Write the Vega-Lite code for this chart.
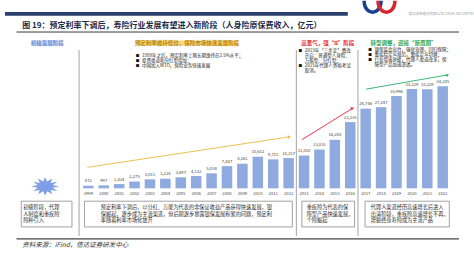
{
  "$schema": "https://vega.github.io/schema/vega-lite/v6.json",
  "width": 474,
  "height": 256,
  "autosize": {"type": "fit", "contains": "padding"},
  "padding": 0,
  "background": "white",
  "config": {
    "view": {"stroke": null},
    "font": "Noto Sans CJK SC",
    "text": {"font": "Noto Sans CJK SC"}
  },
  "datasets": {
    "premium": [
      {"year": 1999, "value": 872}, {"year": 2000, "value": 997}, {"year": 2001, "value": 1424},
      {"year": 2002, "value": 2275}, {"year": 2003, "value": 3011}, {"year": 2004, "value": 3228},
      {"year": 2005, "value": 3697}, {"year": 2006, "value": 4132}, {"year": 2007, "value": 5038},
      {"year": 2008, "value": 7447}, {"year": 2009, "value": 8261}, {"year": 2010, "value": 10632},
      {"year": 2011, "value": 9721}, {"year": 2012, "value": 10157}, {"year": 2013, "value": 11010},
      {"year": 2014, "value": 13031}, {"year": 2015, "value": 16288}, {"year": 2016, "value": 22235},
      {"year": 2017, "value": 26746}, {"year": 2018, "value": 27247}, {"year": 2019, "value": 30996},
      {"year": 2020, "value": 33329}, {"year": 2021, "value": 33229}, {"year": 2022, "value": 34245}
    ],
    "trends": [
      {"trend": "低利率扩张", "year": 1998.94, "value": 7040, "end": false},
      {"trend": "低利率扩张", "year": 2012.05, "value": 17280, "end": true},
      {"trend": "高景气", "year": 2012.86, "value": 16320, "end": false},
      {"trend": "高景气", "year": 2016.15, "value": 26880, "end": true},
      {"trend": "转型调整", "year": 2017.02, "value": 33280, "end": false},
      {"trend": "转型调整", "year": 2022.31, "value": 38080, "end": true}
    ],
    "boundaries": [{"year": 1998.4}, {"year": 2012.5}, {"year": 2016.5}],
    "stages": [
      {"stage": "初级发展阶段", "center": 1996.33, "from": 1995.33, "to": 1997.32},
      {"stage": "预定利率维持低位，保险市场快速发展阶段", "center": 2005.4, "from": 2002.17, "to": 2008.7},
      {"stage": "高景气，强“α”阶段", "center": 2014.54},
      {"stage": "转型调整，迎接“新周期”", "center": 2019.45}
    ],
    "notes": [
      {"year": 2002.48, "level": 44480, "note": "1999年之后，预定利率上限长期维持在2.5%水平；", "bullet": true},
      {"year": 2002.48, "level": 42720, "note": "投资渠道和分红型增加；", "bullet": true},
      {"year": 2002.48, "level": 40960, "note": "中国加入WTO，保险业务快速发展", "bullet": true},
      {"year": 2013.05, "level": 46080, "note": "2013年“三步走”费改", "bullet": true},
      {"year": 2013.05, "level": 44416, "note": "开启：普通型人身险、", "bullet": false},
      {"year": 2013.05, "level": 42752, "note": "万能型、分红型；", "bullet": false},
      {"year": 2013.05, "level": 41088, "note": "2015年代理人资格考试", "bullet": true},
      {"year": 2013.05, "level": 39424, "note": "取消。", "bullet": false},
      {"year": 2017.58, "level": 46400, "note": "银保监会出台，强化治理，回归保障；", "bullet": true},
      {"year": 2017.58, "level": 44736, "note": "重疾险定义规范，重疾定义切换；", "bullet": true},
      {"year": 2017.58, "level": 43072, "note": "行业增速放缓，代理人渠道改革，保", "bullet": true},
      {"year": 2017.58, "level": 41408, "note": "障型产品加速渗透。", "bullet": false}
    ],
    "boxes": [
      {"from": 1994.65, "to": 1997.94},
      {"from": 1998.75, "to": 2012.24},
      {"from": 2012.86, "to": 2016.28},
      {"from": 2016.96, "to": 2022.43}
    ],
    "boxlines": [
      {"year": 1994.77, "level": -6400, "line": "初级阶段，代理"},
      {"year": 1994.77, "level": -8480, "line": "人制度和重疾险"},
      {"year": 1994.77, "level": -10560, "line": "险种引入"},
      {"year": 1999.81, "level": -6400, "line": "预定利率下调后，以分红、万能为代表的非保证收益产品获得快速发展，银"},
      {"year": 1999.81, "level": -8480, "line": "保崛起，逐步成为主流渠道，但后期逐步暴露银保发展积累的问题，预定利"},
      {"year": 1999.81, "level": -10560, "line": "率随着利率市场化放开"},
      {"year": 2013.17, "level": -6400, "line": "重疾险为代表的保"},
      {"year": 2013.17, "level": -8480, "line": "障型产品快速发展，"},
      {"year": 2013.17, "level": -10560, "line": "个险崛起"},
      {"year": 2017.33, "level": -6400, "line": "代理人渠道经历高速增长后进入"},
      {"year": 2017.33, "level": -8480, "line": "出清阶段，重疾险高速增长不再，"},
      {"year": 2017.33, "level": -10560, "line": "增额终身寿险成为主流产品"}
    ]
  },
  "layer": [
    {
      "data": {"values": [{}]},
      "mark": {"type": "rect", "color": "#2b3f6e"},
      "encoding": {
        "x": {"datum": 1993.593, "type": "quantitative", "scale": {"domain": [1993.593, 2023.057], "nice": false, "zero": false}, "axis": null},
        "x2": {"datum": 2015.84},
        "y": {"datum": 59200, "type": "quantitative", "scale": {"domain": [-22720, 59200], "nice": false, "zero": false}, "axis": null},
        "y2": {"datum": 57920}
      }
    },
    {
      "data": {"values": [{}]},
      "mark": {"type": "point", "filled": true, "opacity": 1, "color": "#1d3f91", "size": 420, "shape": "M-1,-1C-1,0.7 1,0.7 1,-1L0.65,-1C0.65,0.25 -0.65,0.25 -0.65,-1Z"},
      "encoding": {
        "x": {"datum": 2017.45, "type": "quantitative", "scale": {"domain": [1993.593, 2023.057], "nice": false, "zero": false}, "axis": null},
        "y": {"datum": 59500, "type": "quantitative", "scale": {"domain": [-22720, 59200], "nice": false, "zero": false}, "axis": null}
      }
    },
    {
      "data": {"values": [{}]},
      "mark": {"type": "point", "filled": true, "opacity": 1, "color": "#d7262f", "size": 420, "shape": "M-1,-1C-1,0.7 1,0.7 1,-1L0.65,-1C0.65,0.25 -0.65,0.25 -0.65,-1Z"},
      "encoding": {
        "x": {"datum": 2018.35, "type": "quantitative", "scale": {"domain": [1993.593, 2023.057], "nice": false, "zero": false}, "axis": null},
        "y": {"datum": 59500, "type": "quantitative", "scale": {"domain": [-22720, 59200], "nice": false, "zero": false}, "axis": null}
      }
    },
    {
      "data": {"values": [{"label": "信达证券股份有限公司 CINDA SECURITIES"}]},
      "mark": {"type": "text", "align": "left", "baseline": "middle", "fontSize": 3.5, "color": "#9a9a9a"},
      "encoding": {
        "x": {"datum": 2019.8, "type": "quantitative", "scale": {"domain": [1993.593, 2023.057], "nice": false, "zero": false}, "axis": null},
        "y": {"datum": 58560, "type": "quantitative", "scale": {"domain": [-22720, 59200], "nice": false, "zero": false}, "axis": null},
        "text": {"field": "label"}
      }
    },
    {
      "data": {"values": [{"label": "图 19：预定利率下调后，寿险行业发展有望进入新阶段（人身险原保费收入，亿元）"}]},
      "mark": {"type": "text", "align": "left", "baseline": "middle", "fontSize": 8, "fontWeight": "bold", "color": "#1c2a48"},
      "encoding": {
        "x": {"datum": 1994.71, "type": "quantitative", "scale": {"domain": [1993.593, 2023.057], "nice": false, "zero": false}, "axis": null},
        "y": {"datum": 54400, "type": "quantitative", "scale": {"domain": [-22720, 59200], "nice": false, "zero": false}, "axis": null},
        "text": {"field": "label"}
      }
    },
    {
      "data": {"values": [{}]},
      "mark": {"type": "rule", "color": "#3a3a3a", "strokeWidth": 1},
      "encoding": {
        "x": {"datum": 1994.34, "type": "quantitative", "scale": {"domain": [1993.593, 2023.057], "nice": false, "zero": false}, "axis": null},
        "x2": {"datum": 2023.057},
        "y": {"datum": 52480, "type": "quantitative", "scale": {"domain": [-22720, 59200], "nice": false, "zero": false}, "axis": null}
      }
    },
    {
      "data": {"name": "stages"},
      "transform": [{"filter": "datum.stage === '初级发展阶段'"}],
      "mark": {"type": "rect", "color": "#d3ddf5"},
      "encoding": {
        "x": {"field": "from", "type": "quantitative", "scale": {"domain": [1993.593, 2023.057], "nice": false, "zero": false}, "axis": null},
        "x2": {"field": "to"},
        "y": {"datum": 49600, "type": "quantitative", "scale": {"domain": [-22720, 59200], "nice": false, "zero": false}, "axis": null},
        "y2": {"datum": 47840}
      }
    },
    {
      "data": {"name": "stages"},
      "transform": [{"filter": "datum.stage === '预定利率维持低位，保险市场快速发展阶段'"}],
      "mark": {"type": "rect", "color": "#f8d977"},
      "encoding": {
        "x": {"field": "from", "type": "quantitative", "scale": {"domain": [1993.593, 2023.057], "nice": false, "zero": false}, "axis": null},
        "x2": {"field": "to"},
        "y": {"datum": 49600, "type": "quantitative", "scale": {"domain": [-22720, 59200], "nice": false, "zero": false}, "axis": null},
        "y2": {"datum": 47840}
      }
    },
    {
      "data": {"name": "stages"},
      "mark": {"type": "text", "align": "center", "baseline": "middle", "fontSize": 5.5, "fontWeight": "bold"},
      "encoding": {
        "x": {"field": "center", "type": "quantitative", "scale": {"domain": [1993.593, 2023.057], "nice": false, "zero": false}, "axis": null},
        "y": {"datum": 48736, "type": "quantitative", "scale": {"domain": [-22720, 59200], "nice": false, "zero": false}, "axis": null},
        "text": {"field": "stage"},
        "color": {
          "field": "stage", "type": "nominal", "legend": null,
          "scale": {
            "domain": ["初级发展阶段", "预定利率维持低位，保险市场快速发展阶段", "高景气，强“α”阶段", "转型调整，迎接“新周期”"],
            "range": ["#6f8fd6", "#b98410", "#e8262b", "#2aa85a"]
          }
        }
      }
    },
    {
      "data": {"name": "boundaries"},
      "mark": {"type": "rule", "color": "#a3a3a3", "strokeWidth": 1},
      "encoding": {
        "x": {"field": "year", "type": "quantitative", "scale": {"domain": [1993.593, 2023.057], "nice": false, "zero": false}, "axis": null},
        "y": {"datum": 46400, "type": "quantitative", "scale": {"domain": [-22720, 59200], "nice": false, "zero": false}, "axis": null},
        "y2": {"datum": -16000}
      }
    },
    {
      "data": {"name": "notes"},
      "transform": [{"filter": "datum.bullet"}],
      "mark": {"type": "text", "align": "center", "baseline": "middle", "fontSize": 3.6, "dx": -4.5, "color": "#111", "text": "■"},
      "encoding": {
        "x": {"field": "year", "type": "quantitative", "scale": {"domain": [1993.593, 2023.057], "nice": false, "zero": false}, "axis": null},
        "y": {"field": "level", "type": "quantitative", "scale": {"domain": [-22720, 59200], "nice": false, "zero": false}, "axis": null}
      }
    },
    {
      "data": {"name": "notes"},
      "mark": {"type": "text", "align": "left", "baseline": "middle", "fontSize": 4.5, "color": "#222"},
      "encoding": {
        "x": {"field": "year", "type": "quantitative", "scale": {"domain": [1993.593, 2023.057], "nice": false, "zero": false}, "axis": null},
        "y": {"field": "level", "type": "quantitative", "scale": {"domain": [-22720, 59200], "nice": false, "zero": false}, "axis": null},
        "text": {"field": "note"}
      }
    },
    {
      "data": {"name": "trends"},
      "mark": {"type": "line", "strokeWidth": 1},
      "encoding": {
        "x": {"field": "year", "type": "quantitative", "scale": {"domain": [1993.593, 2023.057], "nice": false, "zero": false}, "axis": null},
        "y": {"field": "value", "type": "quantitative", "scale": {"domain": [-22720, 59200], "nice": false, "zero": false}, "axis": null},
        "stroke": {"field": "trend", "type": "nominal", "legend": null, "scale": {"domain": ["低利率扩张", "高景气", "转型调整"], "range": ["#e8c24e", "#ee3450", "#3cb878"]}}
      }
    },
    {
      "data": {"name": "trends"},
      "transform": [{"filter": "datum.end"}],
      "mark": {"type": "point", "shape": "triangle-right", "filled": true, "opacity": 1, "size": 14},
      "encoding": {
        "x": {"field": "year", "type": "quantitative", "scale": {"domain": [1993.593, 2023.057], "nice": false, "zero": false}, "axis": null},
        "y": {"field": "value", "type": "quantitative", "scale": {"domain": [-22720, 59200], "nice": false, "zero": false}, "axis": null},
        "fill": {"field": "trend", "type": "nominal", "legend": null, "scale": {"domain": ["低利率扩张", "高景气", "转型调整"], "range": ["#e8c24e", "#ee3450", "#3cb878"]}},
        "angle": {"field": "trend", "type": "nominal", "legend": null, "scale": {"domain": ["低利率扩张", "高景气", "转型调整"], "range": [-8.6, -31.9, -10]}}
      }
    },
    {
      "data": {"name": "premium"},
      "mark": {"type": "bar", "size": 10.5, "color": "#8eaadf"},
      "encoding": {
        "x": {"field": "year", "type": "quantitative", "scale": {"domain": [1993.593, 2023.057], "nice": false, "zero": false}, "axis": null},
        "y": {"field": "value", "type": "quantitative", "scale": {"domain": [-22720, 59200], "nice": false, "zero": false}, "axis": null},
        "y2": {"datum": 0}
      }
    },
    {
      "data": {"name": "premium"},
      "mark": {"type": "text", "align": "center", "baseline": "bottom", "dy": -2.5, "fontSize": 4.2, "color": "#444"},
      "encoding": {
        "x": {"field": "year", "type": "quantitative", "scale": {"domain": [1993.593, 2023.057], "nice": false, "zero": false}, "axis": null},
        "y": {"field": "value", "type": "quantitative", "scale": {"domain": [-22720, 59200], "nice": false, "zero": false}, "axis": null},
        "text": {"field": "value", "type": "quantitative", "format": ","}
      }
    },
    {
      "data": {"name": "premium"},
      "mark": {"type": "text", "align": "center", "baseline": "middle", "dy": 5.5, "fontSize": 4.2, "color": "#444"},
      "encoding": {
        "x": {"field": "year", "type": "quantitative", "scale": {"domain": [1993.593, 2023.057], "nice": false, "zero": false}, "axis": null},
        "y": {"datum": 0, "type": "quantitative", "scale": {"domain": [-22720, 59200], "nice": false, "zero": false}, "axis": null},
        "text": {"field": "year", "type": "quantitative", "format": "d"}
      }
    },
    {
      "data": {"values": [{}]},
      "mark": {"type": "point", "filled": true, "opacity": 1, "color": "#7e9fe6", "size": 784,
        "shape": "M1,0L0.531,0.093L0.866,0.325L0.389,0.253L0.5,0.563L0.142,0.345L0,0.65L-0.142,0.345L-0.5,0.563L-0.389,0.253L-0.866,0.325L-0.531,0.093L-1,0L-0.531,-0.093L-0.866,-0.325L-0.389,-0.253L-0.5,-0.563L-0.142,-0.345L0,-0.65L0.142,-0.345L0.5,-0.563L0.389,-0.253L0.866,-0.325L0.531,-0.093Z"},
      "encoding": {
        "x": {"datum": 1996.2, "type": "quantitative", "scale": {"domain": [1993.593, 2023.057], "nice": false, "zero": false}, "axis": null},
        "y": {"datum": 640, "type": "quantitative", "scale": {"domain": [-22720, 59200], "nice": false, "zero": false}, "axis": null}
      }
    },
    {
      "data": {"name": "boxes"},
      "mark": {"type": "rect", "fill": "white", "stroke": "#8a8a8a", "strokeWidth": 0.8},
      "encoding": {
        "x": {"field": "from", "type": "quantitative", "scale": {"domain": [1993.593, 2023.057], "nice": false, "zero": false}, "axis": null},
        "x2": {"field": "to"},
        "y": {"datum": -4320, "type": "quantitative", "scale": {"domain": [-22720, 59200], "nice": false, "zero": false}, "axis": null},
        "y2": {"datum": -12960}
      }
    },
    {
      "data": {"name": "boxlines"},
      "mark": {"type": "text", "align": "left", "baseline": "middle", "fontSize": 5.2, "color": "#2a2a2a"},
      "encoding": {
        "x": {"field": "year", "type": "quantitative", "scale": {"domain": [1993.593, 2023.057], "nice": false, "zero": false}, "axis": null},
        "y": {"field": "level", "type": "quantitative", "scale": {"domain": [-22720, 59200], "nice": false, "zero": false}, "axis": null},
        "text": {"field": "line"}
      }
    },
    {
      "data": {"values": [{}]},
      "mark": {"type": "rule", "color": "#444", "strokeWidth": 1.2},
      "encoding": {
        "x": {"datum": 1994.34, "type": "quantitative", "scale": {"domain": [1993.593, 2023.057], "nice": false, "zero": false}, "axis": null},
        "x2": {"datum": 2023.057},
        "y": {"datum": -16960, "type": "quantitative", "scale": {"domain": [-22720, 59200], "nice": false, "zero": false}, "axis": null}
      }
    },
    {
      "data": {"values": [{"label": "资料来源：iFind，信达证券研发中心"}]},
      "mark": {"type": "text", "align": "left", "baseline": "middle", "fontSize": 6.5, "fontStyle": "italic", "color": "#333"},
      "encoding": {
        "x": {"datum": 1994.71, "type": "quantitative", "scale": {"domain": [1993.593, 2023.057], "nice": false, "zero": false}, "axis": null},
        "y": {"datum": -18880, "type": "quantitative", "scale": {"domain": [-22720, 59200], "nice": false, "zero": false}, "axis": null},
        "text": {"field": "label"}
      }
    }
  ]
}
